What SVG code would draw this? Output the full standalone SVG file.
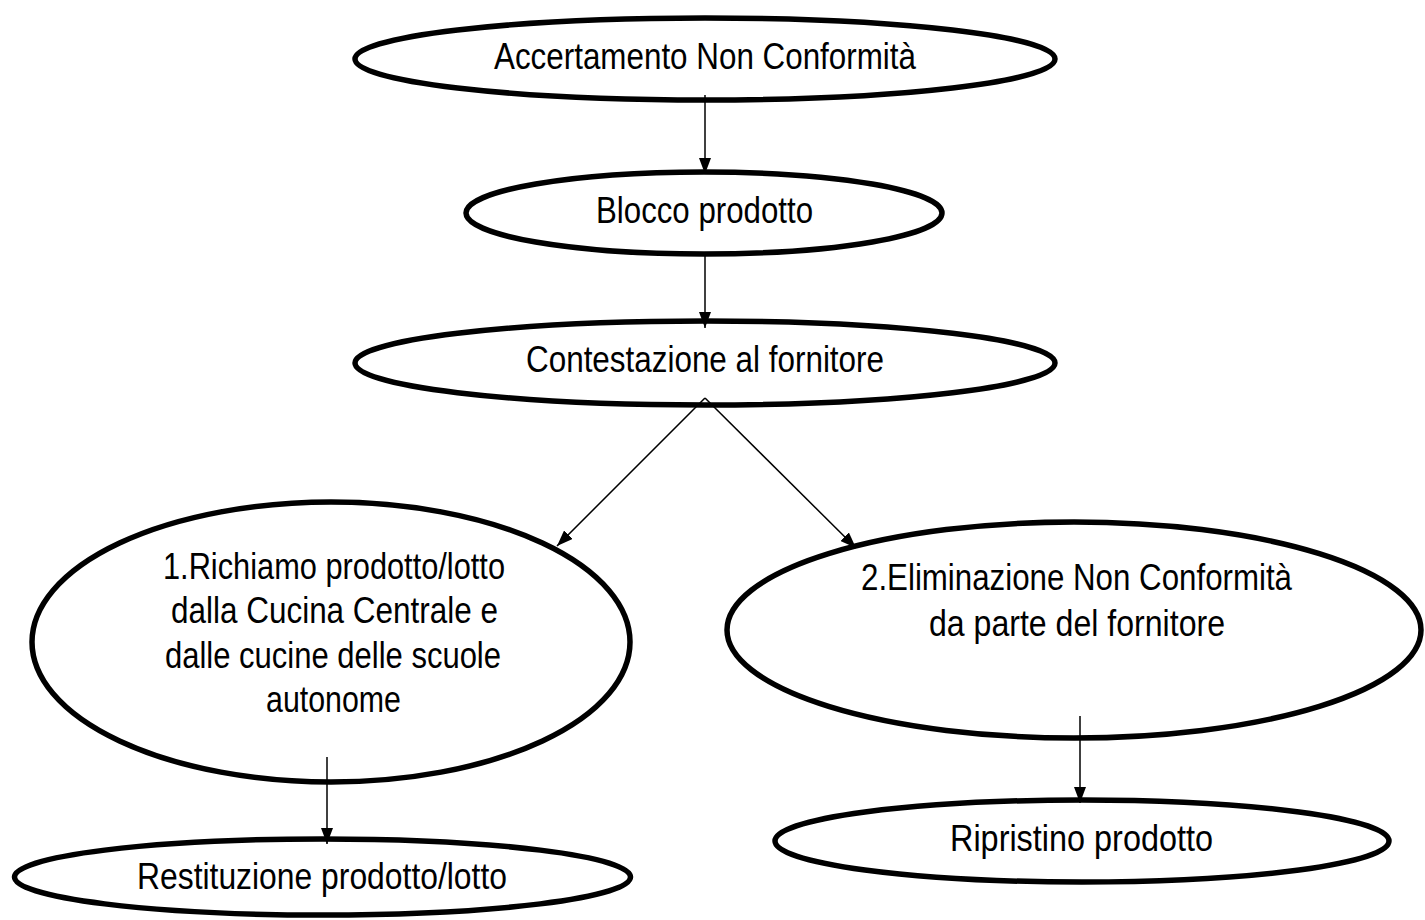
<svg xmlns="http://www.w3.org/2000/svg" width="1425" height="920" viewBox="0 0 1425 920">
<style>
.n ellipse{fill:#fff;stroke:#000;stroke-width:5.5}
.n text{font-family:"Liberation Sans",Arial,sans-serif;font-size:36px;fill:#000;text-anchor:middle}
.c line{stroke:#000;stroke-width:1.5;fill:none}
</style>
<defs>
<marker id="ahb" viewBox="0 0 16 12" refX="16" refY="6" markerWidth="16" markerHeight="12" markerUnits="userSpaceOnUse" orient="auto">
<path d="M0,0 L16,6 L0,12 Z" fill="#000"/>
</marker>
</defs>
<rect width="1425" height="920" fill="#fff"/>
<g id="n1" class="n">
<ellipse cx="705" cy="59" rx="350" ry="41"/>
<text x="705" y="69" textLength="422" lengthAdjust="spacingAndGlyphs">Accertamento Non Conformità</text>
</g>
<g id="n2" class="n">
<ellipse cx="704" cy="213" rx="238" ry="41"/>
<text x="704.5" y="223" textLength="217" lengthAdjust="spacingAndGlyphs">Blocco prodotto</text>
</g>
<g id="n3" class="n">
<ellipse cx="705" cy="363" rx="350" ry="42"/>
<text x="705" y="372" textLength="358" lengthAdjust="spacingAndGlyphs">Contestazione al fornitore</text>
</g>
<g id="n4" class="n">
<ellipse cx="331" cy="642" rx="299" ry="140"/>
<text x="334" y="579" textLength="342" lengthAdjust="spacingAndGlyphs">1.Richiamo prodotto/lotto</text>
<text x="334.5" y="623" textLength="327" lengthAdjust="spacingAndGlyphs">dalla Cucina Centrale e</text>
<text x="333" y="668" textLength="336" lengthAdjust="spacingAndGlyphs">dalle cucine delle scuole</text>
<text x="333.5" y="712" textLength="135" lengthAdjust="spacingAndGlyphs">autonome</text>
</g>
<g id="n5" class="n">
<ellipse cx="1074" cy="630" rx="347" ry="108"/>
<text x="1076.5" y="590" textLength="431" lengthAdjust="spacingAndGlyphs">2.Eliminazione Non Conformità</text>
<text x="1077" y="636" textLength="296" lengthAdjust="spacingAndGlyphs">da parte del fornitore</text>
</g>
<g id="n6" class="n">
<ellipse cx="1082" cy="841" rx="307" ry="41"/>
<text x="1081.5" y="851" textLength="263" lengthAdjust="spacingAndGlyphs">Ripristino prodotto</text>
</g>
<g id="n7" class="n">
<ellipse cx="322.5" cy="877" rx="308" ry="38"/>
<text x="322" y="889" textLength="370" lengthAdjust="spacingAndGlyphs">Restituzione prodotto/lotto</text>
</g>
<g id="connectors" class="c">
<line x1="705" y1="95" x2="705" y2="174" marker-end="url(#ahb)"/>
<line x1="705" y1="252" x2="705" y2="328" marker-end="url(#ahb)"/>
<line x1="705" y1="398" x2="557" y2="546" marker-end="url(#ahb)"/>
<line x1="705" y1="398" x2="856" y2="548" marker-end="url(#ahb)"/>
<line x1="327" y1="757" x2="327" y2="844" marker-end="url(#ahb)"/>
<line x1="1080" y1="716" x2="1080" y2="803" marker-end="url(#ahb)"/>
</g>
</svg>
